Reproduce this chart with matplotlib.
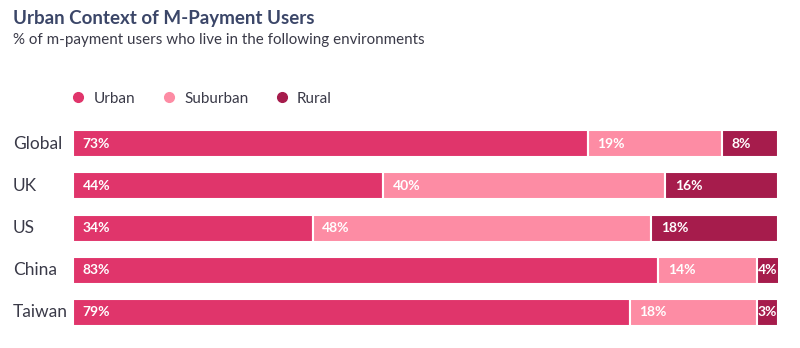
import matplotlib
matplotlib.use("Agg")
import matplotlib.pyplot as plt
import matplotlib.transforms as mtransforms
from matplotlib.lines import Line2D

plt.rcParams["font.family"] = ["Lato", "DejaVu Sans"]

countries = ["Global", "UK", "US", "China", "Taiwan"]
urban = [73, 44, 34, 83, 79]
suburban = [19, 40, 48, 14, 18]
rural = [8, 16, 18, 4, 3]

series_names = ["Urban", "Suburban", "Rural"]
C_URBAN = "#e0356b"
C_SUB = "#fd8ca4"
C_RURAL = "#a61c4c"
C_TITLE = "#3b4668"
C_TEXT = "#3a3a48"

fig = plt.figure(figsize=(8, 3.48), dpi=100, facecolor="white")
ax = fig.add_axes([0.09125, 0.0414, 0.88125, 0.6066])

ys = list(range(len(countries)))
left = [0] * len(countries)
for vals, col in zip([urban, suburban, rural], [C_URBAN, C_SUB, C_RURAL]):
    ax.barh(ys, vals, left=left, height=0.64, color=col,
            edgecolor="white", linewidth=1.5)
    for y, v, l in zip(ys, vals, left):
        ax.text(l + 1.35 if v > 4 else l + 0.1, y, f"{v}%", color="white",
                fontsize=10, fontweight="bold", va="center", ha="left")
    left = [a + b for a, b in zip(left, vals)]

ax.set_xlim(0, 100)
ax.set_ylim(len(countries) - 0.5, -0.5)
ax.axis("off")

# category labels: figure x, data y
lab_tr = mtransforms.blended_transform_factory(fig.transFigure, ax.transData)
for y, c in zip(ys, countries):
    ax.text(0.016, y, c, transform=lab_tr, fontsize=12.5,
            color=C_TEXT, va="center", ha="left")

fig.text(0.016, 0.948, "Urban Context of M-Payment Users", fontsize=13.5,
         fontweight="bold", color=C_TITLE, va="center", ha="left")
fig.text(0.016, 0.885, "% of m-payment users who live in the following environments",
         fontsize=10.9, color=C_TEXT, va="center", ha="left")

handles = [Line2D([], [], marker="o", ls="", markersize=7, color=c)
           for c in [C_URBAN, C_SUB, C_RURAL]]
fig.legend(handles, series_names, loc="center left",
           bbox_to_anchor=(0.071, 0.716), ncol=3, frameon=False,
           fontsize=11, labelcolor=C_TEXT, handletextpad=0.5,
           columnspacing=1.7, handlelength=1.0)

fig.savefig("out.png", dpi=100, facecolor="white")
